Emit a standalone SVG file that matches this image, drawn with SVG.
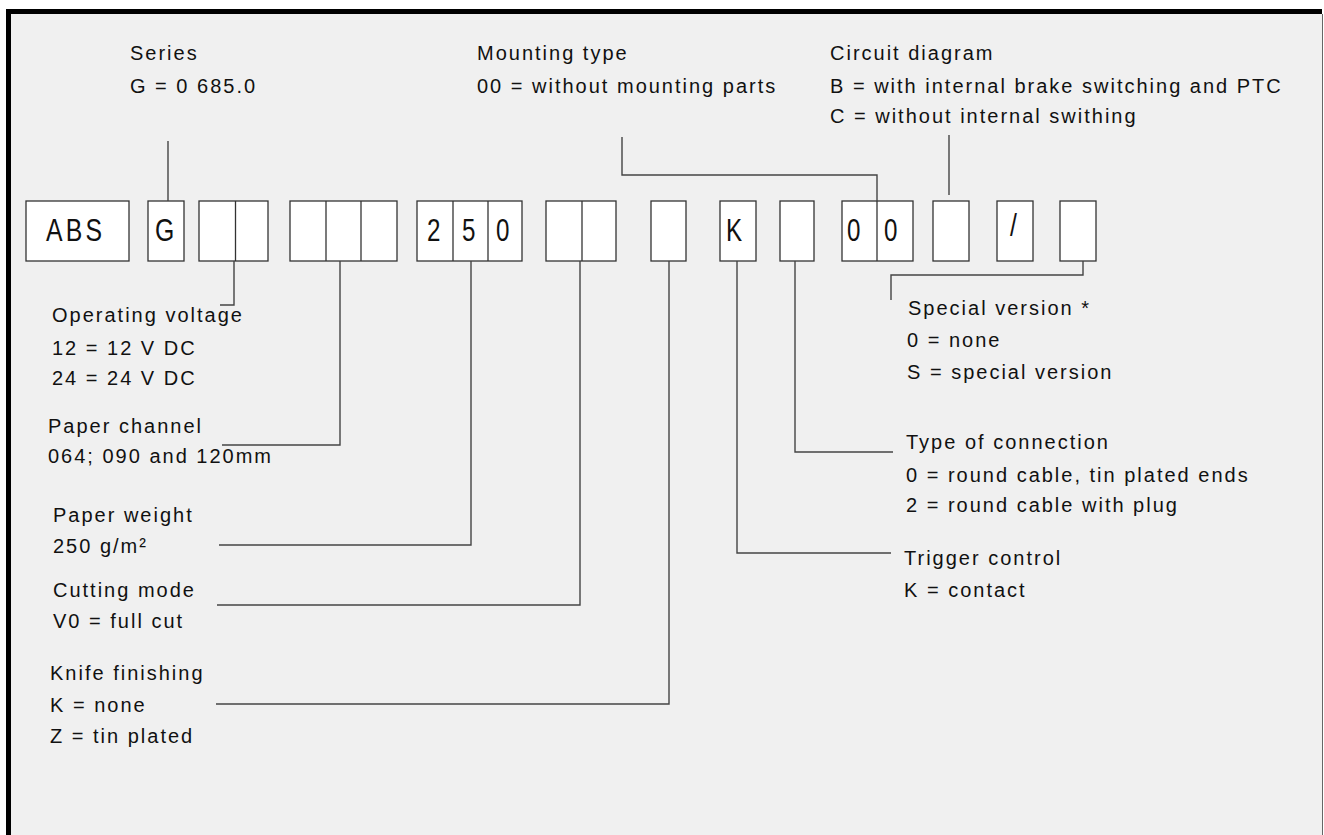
<svg xmlns="http://www.w3.org/2000/svg" width="1324" height="835" viewBox="0 0 1324 835">
<style>
.lb{font-family:"Liberation Sans",Arial,sans-serif;font-size:20px;letter-spacing:2px;fill:#111}
.bt{font-family:"Liberation Sans",Arial,sans-serif;font-size:31px;fill:#111}
.bx{fill:#fff;stroke:#333;stroke-width:1.3}
.dv{stroke:#333;stroke-width:1.3}
.cn{fill:none;stroke:#444;stroke-width:1.4}
</style>
<rect x="0" y="0" width="1324" height="835" fill="#fff"/>
<rect x="11" y="14" width="1311" height="821" fill="#f0f0f0"/>
<rect x="6" y="9" width="1316" height="5" fill="#000"/>
<rect x="6" y="9" width="5" height="826" fill="#000"/>
<line x1="1322.5" y1="14" x2="1322.5" y2="835" stroke="#666" stroke-width="1"/>

<g id="box-abs"><rect class="bx" x="26" y="201" width="103" height="60"/><text class="bt" transform="translate(46,241) scale(0.8,1)" letter-spacing="4">ABS</text></g>
<g id="box-series"><rect class="bx" x="148" y="201" width="36" height="60"/><text class="bt" transform="translate(155,241) scale(0.8,1)">G</text></g>
<g id="box-voltage"><rect class="bx" x="199" y="201" width="69" height="60"/><line class="dv" x1="235.5" y1="201" x2="235.5" y2="261"/></g>
<g id="box-channel"><rect class="bx" x="290" y="201" width="107" height="60"/><line class="dv" x1="326" y1="201" x2="326" y2="261"/><line class="dv" x1="361" y1="201" x2="361" y2="261"/></g>
<g id="box-weight"><rect class="bx" x="417" y="201" width="105" height="60"/><line class="dv" x1="453" y1="201" x2="453" y2="261"/><line class="dv" x1="488" y1="201" x2="488" y2="261"/>
<text class="bt" transform="translate(427,241) scale(0.78,1)">2</text><text class="bt" transform="translate(462,241) scale(0.78,1)">5</text><text class="bt" transform="translate(496,241) scale(0.78,1)">0</text></g>
<g id="box-cutting"><rect class="bx" x="546" y="201" width="70" height="60"/><line class="dv" x1="582" y1="201" x2="582" y2="261"/></g>
<g id="box-knife"><rect class="bx" x="651" y="201" width="35" height="60"/></g>
<g id="box-trigger"><rect class="bx" x="720" y="201" width="36" height="60"/><text class="bt" transform="translate(726,241) scale(0.78,1)">K</text></g>
<g id="box-connection"><rect class="bx" x="780" y="201" width="34" height="60"/></g>
<g id="box-mounting"><rect class="bx" x="842" y="201" width="71" height="60"/><line class="dv" x1="877" y1="201" x2="877" y2="261"/>
<text class="bt" transform="translate(847,241) scale(0.78,1)">0</text><text class="bt" transform="translate(884,241) scale(0.78,1)">0</text></g>
<g id="box-circuit"><rect class="bx" x="933" y="201" width="36" height="60"/></g>
<g id="box-slash"><rect class="bx" x="997" y="201" width="36" height="60"/><text class="bt" transform="translate(1010,236) scale(0.8,1)" font-size="22">/</text></g>
<g id="box-special"><rect class="bx" x="1060" y="201" width="36" height="60"/></g>

<g id="connectors">
<path class="cn" d="M168,141 V201"/>
<path class="cn" d="M622,137 V175 H877 V201"/>
<path class="cn" d="M949,135 V195"/>
<path class="cn" d="M234,261 V305 H220"/>
<path class="cn" d="M340,261 V445 H222"/>
<path class="cn" d="M471,261 V545 H219"/>
<path class="cn" d="M580,261 V605 H217"/>
<path class="cn" d="M669,261 V704 H216"/>
<path class="cn" d="M737,261 V553 H891"/>
<path class="cn" d="M795,261 V452 H893"/>
<path class="cn" d="M1083,261 V275 H891 V300"/>
</g>

<g id="label-series"><text class="lb" x="130" y="60">Series</text><text class="lb" x="130" y="93">G = 0 685.0</text></g>
<g id="label-mounting"><text class="lb" x="477" y="60">Mounting type</text><text class="lb" x="477" y="93">00 = without mounting parts</text></g>
<g id="label-circuit"><text class="lb" x="830" y="60">Circuit diagram</text><text class="lb" x="830" y="93">B = with internal brake switching and PTC</text><text class="lb" x="830" y="123">C = without internal swithing</text></g>
<g id="label-voltage"><text class="lb" x="52" y="322">Operating voltage</text><text class="lb" x="52" y="355">12 = 12 V DC</text><text class="lb" x="52" y="385">24 = 24 V DC</text></g>
<g id="label-channel"><text class="lb" x="48" y="433">Paper channel</text><text class="lb" x="48" y="463">064; 090 and 120mm</text></g>
<g id="label-weight"><text class="lb" x="53" y="522">Paper weight</text><text class="lb" x="53" y="553">250 g/m²</text></g>
<g id="label-cutting"><text class="lb" x="53" y="597">Cutting mode</text><text class="lb" x="53" y="628">V0 = full cut</text></g>
<g id="label-knife"><text class="lb" x="50" y="680">Knife finishing</text><text class="lb" x="50" y="712">K = none</text><text class="lb" x="50" y="743">Z = tin plated</text></g>
<g id="label-special"><text class="lb" x="908" y="315">Special version *</text><text class="lb" x="907" y="347">0 = none</text><text class="lb" x="907" y="379">S = special version</text></g>
<g id="label-connection"><text class="lb" x="906" y="449">Type of connection</text><text class="lb" x="906" y="482">0 = round cable, tin plated ends</text><text class="lb" x="906" y="512">2 = round cable with plug</text></g>
<g id="label-trigger"><text class="lb" x="904" y="565">Trigger control</text><text class="lb" x="904" y="597">K = contact</text></g>
</svg>
